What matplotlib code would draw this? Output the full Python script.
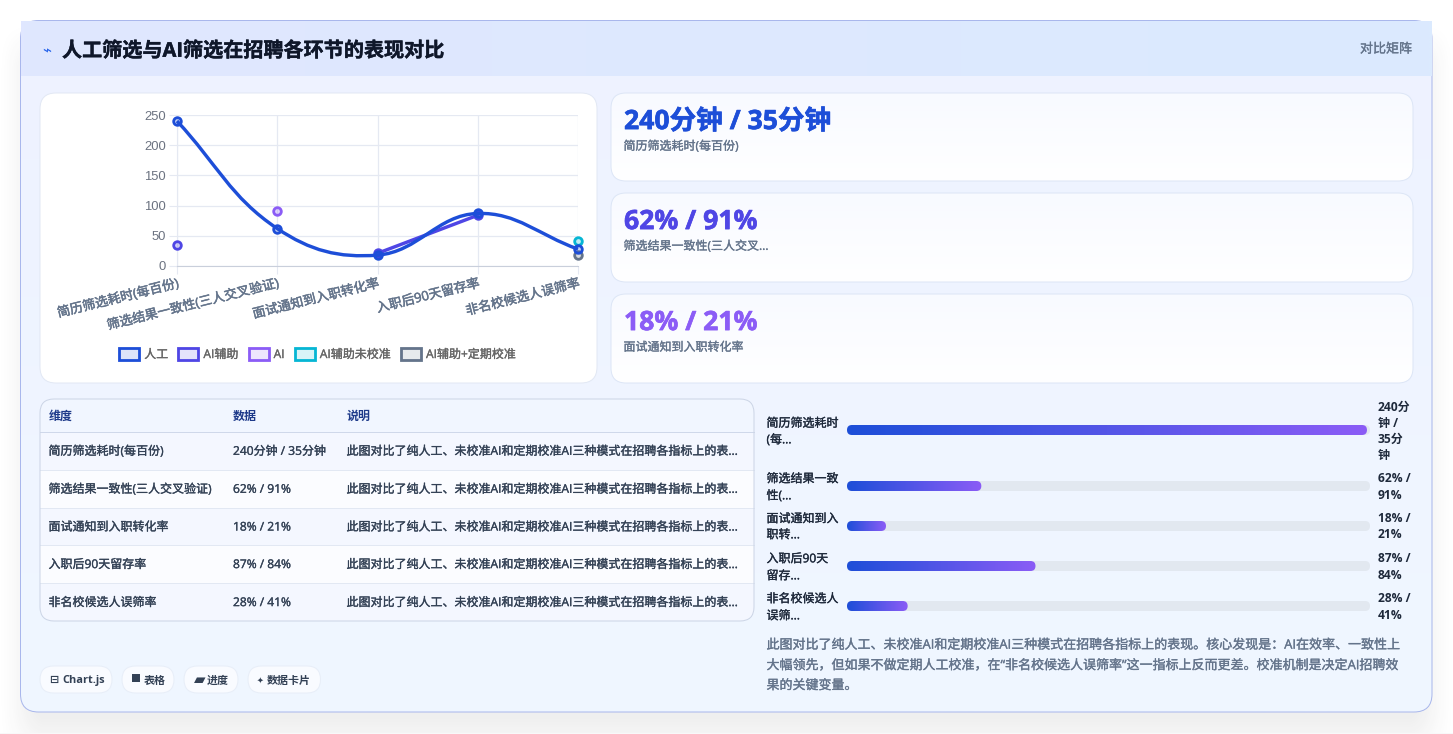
import numpy as np
import matplotlib
matplotlib.use("Agg")
import matplotlib.pyplot as plt
import matplotlib.patheffects as pe
from matplotlib.colors import to_rgb, to_rgba
from matplotlib.patches import FancyBboxPatch, Patch, PathPatch, Rectangle
from matplotlib.path import Path

plt.rcParams['font.family'] = ['Open Sans', 'Noto Sans CJK SC', 'DejaVu Sans']

W, H = 1453, 734

# chart data
metrics = ['简历筛选耗时(每百份)', '筛选结果一致性(三人交叉验证)', '面试通知到入职转化率', '入职后90天留存率', '非名校候选人误筛率']
manual = [240, 62, 18, 87, 28]
ai_assist = [35, np.nan, 21, 84, np.nan]
ai_only = [np.nan, 91, np.nan, np.nan, np.nan]
ai_uncal = [np.nan, np.nan, np.nan, np.nan, 41]
ai_cal = [np.nan, np.nan, np.nan, np.nan, 18]
series_names = ['人工', 'AI辅助', 'AI', 'AI辅助未校准', 'AI辅助+定期校准']
series_colors = ['#1d4ed8', '#4f46e5', '#8b5cf6', '#06b6d4', '#64748b']
y_ticks = [0, 50, 100, 150, 200, 250]

# table, cards, progress bars
data_text = ['240分钟 / 35分钟', '62% / 91%', '18% / 21%', '87% / 84%', '28% / 41%']
note_text = '此图对比了纯人工、未校准AI和定期校准AI三种模式在招聘各指标上的表...'
card_labels = ['简历筛选耗时(每百份)', '筛选结果一致性(三人交叉...', '面试通知到入职转化率']
card_colors = ['#1d4ed8', '#4f46e5', '#8b5cf6']
bar_labels = [['简历筛选耗时', '(每...'], ['筛选结果一致', '性(...'], ['面试通知到入', '职转...'],
              ['入职后90天', '留存...'], ['非名校候选人', '误筛...']]
bar_values = [240, 62, 18, 87, 28]
bar_texts = [['240分', '钟 /', '35分', '钟'], ['62% /', '91%'], ['18% /', '21%'], ['87% /', '84%'], ['28% /', '41%']]
bar_max = 241.4
summary = ['此图对比了纯人工、未校准AI和定期校准AI三种模式在招聘各指标上的表现。核心发现是：AI在效率、一致性上',
           '大幅领先，但如果不做定期人工校准，在“非名校候选人误筛率”这一指标上反而更差。校准机制是决定AI招聘效',
           '果的关键变量。']
chips = [('⊟', 'Chart.js'), ('■', '表格'), ('▰', '进度'), ('✦', '数据卡片')]


def px(n):
    return n * 72 / 100


def thicken(t, color, amount=0.22):
    # there is no medium cut of the CJK face, so fatten the regular one a little
    t.set_path_effects([pe.withStroke(linewidth=amount, foreground=color)])


def txt(x, y, s, size, color, weight='normal', ha='left'):
    # y is the vertical middle of the line
    fat = weight == 'medium'
    t = bg.text(x, y + 0.36 * size, s, fontsize=px(size), color=color,
                fontweight='normal' if fat else weight, ha=ha, va='baseline')
    if fat:
        thicken(t, color)
    return t


def rbox(x0, y0, x1, y1, r, fc='none', ec='none', lw=0.72, alpha=None, z=1):
    p = FancyBboxPatch((x0, y0), x1 - x0, y1 - y0, boxstyle='round,pad=0,rounding_size=%g' % r,
                       fc=fc, ec=ec, lw=lw, alpha=alpha, zorder=z)
    bg.add_patch(p)
    return p


def gradient(x0, y0, x1, y1, c0, c1, clip=None, vertical=False, z=1):
    t = np.linspace(0, 1, 256)
    rgb = np.outer(1 - t, to_rgb(c0)) + np.outer(t, to_rgb(c1))
    img = rgb[:, None, :] if vertical else rgb[None, :, :]
    im = bg.imshow(img, extent=(x0, x1, y1, y0), aspect='auto', zorder=z, interpolation='bilinear')
    if clip is not None:
        im.set_clip_path(clip)
    return im


def ramp(v, lo, hi):
    s = np.clip((v - lo) / (hi - lo), 0, 1)
    return s * s * (3 - 2 * s)


fig = plt.figure(figsize=(W / 100, H / 100), dpi=100, facecolor='white')

# full size pixel layer for the panels
bg = fig.add_axes([0, 0, 1, 1])
bg.set_axis_off()

# soft shadow below the card
gx, gy = np.meshgrid(np.arange(W) + 0.5, np.arange(H) + 0.5)
shade = 0.085 * ramp(gx, -5, 45) * ramp(W - gx, -5, 45) * ramp(gy, 18, 70) * ramp(H - gy, -40, 30)
shadow = np.zeros((H, W, 4))
shadow[..., :3] = 0.2
shadow[..., 3] = shade
bg.imshow(shadow, extent=(0, W, H, 0), aspect='auto', zorder=0.5)
bg.add_patch(Rectangle((0, 732.6), W, 1.4, fc='#f8f8f9', ec='none', zorder=0.6))

card = rbox(20.5, 20.5, 1432, 712, 18, fc='none', z=1)
gradient(20, 20, 1432, 712, '#eef2ff', '#f0f7ff', clip=card, vertical=True, z=1)
rbox(20.5, 20.5, 1432, 712, 18, ec='#a9b7ec', z=1.05)
gradient(21, 21, 1432, 76, '#e0e7ff', '#dbeafe', z=1.1)

txt(47, 50, '⌁', 15, '#2563eb', ha='center')
t = txt(62, 49.5, '人工筛选与AI筛选在招聘各环节的表现对比', 20.1, '#0f172a', 'bold')
thicken(t, '#0f172a', 0.3)
txt(1412, 48, '对比矩阵', 13, '#64748b', 'medium', ha='right')

# chart panel
rbox(40, 93, 597, 383, 16, fc='white', ec='#e2e8f4', z=2)

# stat cards
for (y0, y1), c, lab, val in zip([(93, 181), (193, 282), (294, 383)], card_colors, card_labels, data_text):
    clip = rbox(611, y0, 1413, y1, 15, fc='none', z=2)
    gradient(611, y0, 1413, y1, '#f8faff', '#ffffff', clip=clip, vertical=True, z=2)
    rbox(611, y0, 1413, y1, 15, ec='#dde6f6', z=2.1)
    mid = y0 + 26.5
    t = txt(624, mid, val, 26.6, c, 'bold')
    thicken(t, c, 0.45)
    txt(623.5, mid + 26, lab, 12, '#64748b', 'medium')

# table
tab_clip = rbox(40, 399, 754, 621, 14, fc='none', z=2)
row_edges = [399, 431.5, 469.5, 507.5, 545, 582.5, 621]
tints = ['#f1f6ff', '#f4f7ff', '#fbfcff', '#f4f7ff', '#fbfcff', '#f4f7ff']
for i, c in enumerate(tints):
    r = Rectangle((40, row_edges[i]), 714, row_edges[i + 1] - row_edges[i], fc=c, ec='none', zorder=2)
    bg.add_patch(r)
    r.set_clip_path(tab_clip)
    if 0 < i:
        bg.plot([40, 754], [row_edges[i], row_edges[i]], color='#e2e8f3' if i > 1 else '#cfd8ea', lw=0.72, zorder=2.1)
rbox(40, 399, 754, 621, 14, ec='#ccd5e6', z=2.2)
for x, s in zip([48.5, 233, 346.5], ['维度', '数据', '说明']):
    txt(x, 415.5, s, 12, '#1e3a8a', 'bold')
for i in range(5):
    y = (row_edges[i + 1] + row_edges[i + 2]) / 2
    txt(48.5, y, metrics[i], 12, '#334155', 'medium')
    txt(233, y, data_text[i], 12, '#334155', 'medium')
    txt(346.5, y, note_text, 12, '#334155', 'medium')

# chips under the table
chip_boxes = [(40, 112, 54, 62), (122, 174, 136, 143.5), (184, 238, 199.5, 207), (248, 320.5, 260, 267)]
icon_sizes = [11, 10, 15, 8]
for (x0, x1, xi, xt), (icon, s), sz in zip(chip_boxes, chips, icon_sizes):
    rbox(x0, 666, x1, 693, 13.5, fc='#f9fbff', ec='#e8eef8', z=2)
    bg.text(xi, 680, icon, fontsize=px(sz), color='#334155', ha='center', va='center', fontweight='bold')
    txt(xt, 679.5, s, 11, '#334155', 'bold')

# progress bars
track_l, track_r = 847, 1370
bar_mid = [430, 486, 526, 566, 606]
label_y = [[422.5, 439], [478, 495], [518, 534], [558, 575], [598, 615]]
value_y = [[406.5, 422.5, 438.5, 454.5], [478, 495], [518, 534], [558, 575], [598, 615]]
for i, v in enumerate(bar_values):
    y = bar_mid[i]
    rbox(track_l, y - 5, track_r, y + 5, 5, fc='#e2e8f0', z=2)
    end = track_l + v / bar_max * (track_r - track_l)
    clip = rbox(track_l, y - 5, end, y + 5, 5, fc='none', z=2.1)
    gradient(track_l, y - 5, end, y + 5, '#1d4ed8', '#8b5cf6', clip=clip, z=2.1)
    for s, ly in zip(bar_labels[i], label_y[i]):
        txt(766.5, ly, s, 12, '#1e293b', 'medium')
    for s, ly in zip(bar_texts[i], value_y[i]):
        txt(1378, ly, s, 12, '#1e293b', 'bold')

for s, y in zip(summary, [644, 664.5, 684.5]):
    txt(766.5, y, s, 13, '#64748b', 'medium')

bg.set_xlim(0, W)
bg.set_ylim(H, 0)

# line chart
ax = fig.add_axes([177 / W, 1 - 266 / H, 401 / W, 151 / H], facecolor='none')
x = np.arange(len(metrics))
ax.set_xlim(0, 4)
ax.set_ylim(0, 250)
ax.set_xticks(x)
ax.set_yticks(y_ticks)
ax.set_xticklabels(metrics, rotation=14, ha='right', rotation_mode='anchor', fontsize=px(13), color='#64748b')
ax.set_yticklabels([str(t) for t in y_ticks], fontsize=px(13), color='#6b7280', family='Liberation Sans')
for t in ax.get_xticklabels():
    thicken(t, '#64748b', 0.35)
ax.tick_params(axis='both', length=px(8), width=0.8, color='#e5e9f2', pad=px(3))
ax.grid(True, color='#e5e9f2', lw=0.9)
ax.set_axisbelow(True)
for side in ['top', 'right']:
    ax.spines[side].set_visible(False)
ax.spines['left'].set_color('#e5e9f2')
ax.spines['bottom'].set_color('#c9cfdb')

# smooth curve for the full series, bezier handles worked out in screen units
sx, sy = 401 / 4, 151 / 250
tension = 0.4
vals = np.array(manual, dtype=float)
verts = [(x[0], vals[0])]
codes = [Path.MOVETO]
handles = []
for i in range(len(vals)):
    a, b = max(i - 1, 0), min(i + 1, len(vals) - 1)
    d0 = np.hypot((x[i] - x[a]) * sx, (vals[i] - vals[a]) * sy)
    d1 = np.hypot((x[b] - x[i]) * sx, (vals[b] - vals[i]) * sy)
    tot = (d0 + d1) or 1
    dx, dy = x[b] - x[a], vals[b] - vals[a]
    handles.append(((x[i] - tension * d0 / tot * dx, vals[i] - tension * d0 / tot * dy),
                    (x[i] + tension * d1 / tot * dx, vals[i] + tension * d1 / tot * dy)))
for i in range(len(vals) - 1):
    verts += [handles[i][1], handles[i + 1][0], (x[i + 1], vals[i + 1])]
    codes += [Path.CURVE4] * 3
ax.add_patch(PathPatch(Path(verts, codes), fc='none', ec=series_colors[0], lw=px(3.4), zorder=9, clip_on=False))
ax.plot(x, ai_assist, color=series_colors[1], lw=px(3.4), zorder=7, clip_on=False)

all_series = [manual, ai_assist, ai_only, ai_uncal, ai_cal]
for vals_i, c, z in zip(all_series, series_colors, [10, 8, 6, 5, 4]):
    ax.plot(x, vals_i, ls='none', marker='o', ms=px(7.6), mew=px(2.8), mec=c, mfc=to_rgba(c, 0.25),
            zorder=z, clip_on=False)

legend_handles = [Patch(fc=to_rgba(c, 0.15), ec=c, lw=px(2.8), label=n) for c, n in zip(series_colors, series_names)]
leg = ax.legend(handles=legend_handles, loc='center', bbox_to_anchor=(317.5 / W, 1 - 354.5 / H),
                bbox_transform=fig.transFigure, ncol=5, frameon=False, fontsize=px(12),
                handlelength=20 / 12, handleheight=14 / 12, handletextpad=5 / 12, columnspacing=10.2 / 12,
                borderpad=0, borderaxespad=0)
for t in leg.get_texts():
    t.set_color('#666666')
    thicken(t, '#666666')

fig.savefig("out.png", dpi=100)
